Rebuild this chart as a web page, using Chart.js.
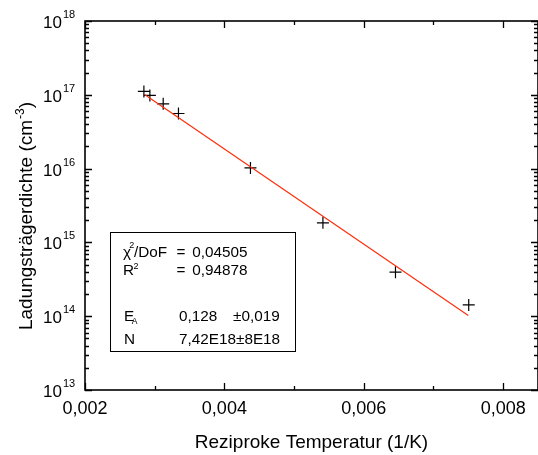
<!DOCTYPE html>
<html>
<head>
<meta charset="utf-8">
<script src="https://cdn.jsdelivr.net/npm/chart.js@4/dist/chart.umd.min.js"></script>
<style>
html,body{margin:0;padding:0;background:#fff;}
canvas{display:block;}
</style>
</head>
<body>
<canvas id="c" width="538" height="455"></canvas>
<script>
// Data
const xValues = [0.002845, 0.002931, 0.003122, 0.003341, 0.004374, 0.005414, 0.006455, 0.007506];
const yValues = [1.11e17, 0.98e17, 7.55e16, 5.58e16, 1.02e16, 1.84e15, 3.95e14, 1.42e14];
const fitX = [0.00286, 0.0075];
const fitY = [1.0e17, 1.02e14];
const xTickValues = [0.002, 0.004, 0.006, 0.008];
const xTickLabels = ['0,002', '0,004', '0,006', '0,008'];
const xMinorValues = [0.003, 0.005, 0.007];
const yExponents = [13, 14, 15, 16, 17, 18];
const xTitle = 'Reziproke Temperatur (1/K)';
const yTitleMain = 'Ladungsträgerdichte (cm';
const yTitleSup = '-3';
const yTitleEnd = ')';
const FONT = '"Liberation Sans", Arial, sans-serif';

const framePlugin = {
  id: 'frame',
  afterDraw(chart) {
    const ctx = chart.ctx;
    const xs = chart.scales.x, ys = chart.scales.y;
    const a = chart.chartArea;
    ctx.save();
    ctx.strokeStyle = '#000';
    ctx.fillStyle = '#000';
    // frame
    ctx.lineWidth = 1.6;
    ctx.strokeRect(a.left, a.top, a.right - a.left, a.bottom - a.top);
    ctx.lineWidth = 1.3;
    // x ticks
    const tickX = (v, len) => {
      const px = Math.round(xs.getPixelForValue(v)) + 0.5;
      ctx.beginPath();
      ctx.moveTo(px, a.bottom); ctx.lineTo(px, a.bottom - len);
      ctx.moveTo(px, a.top); ctx.lineTo(px, a.top + len);
      ctx.stroke();
    };
    xTickValues.forEach(v => tickX(v, 7));
    xMinorValues.forEach(v => tickX(v, 4));
    // y ticks (log)
    const tickY = (v, len) => {
      const py = Math.round(ys.getPixelForValue(v)) + 0.5;
      ctx.beginPath();
      ctx.moveTo(a.left, py); ctx.lineTo(a.left + len, py);
      ctx.moveTo(a.right, py); ctx.lineTo(a.right - len, py);
      ctx.stroke();
    };
    yExponents.forEach((e, i) => {
      tickY(Math.pow(10, e), 7);
      if (i < yExponents.length - 1) {
        for (let m = 2; m <= 9; m++) tickY(m * Math.pow(10, e), 4);
      }
    });
    // x tick labels
    ctx.font = '18px ' + FONT;
    ctx.textAlign = 'center';
    ctx.textBaseline = 'alphabetic';
    xTickValues.forEach((v, i) => {
      ctx.fillText(xTickLabels[i], xs.getPixelForValue(v), 414);
    });
    // y tick labels 10^n
    yExponents.forEach(e => {
      const py = ys.getPixelForValue(Math.pow(10, e));
      ctx.font = '17px ' + FONT;
      ctx.textAlign = 'right';
      ctx.textBaseline = 'alphabetic';
      ctx.fillText('10', 62, py + 7);
      ctx.font = '11px ' + FONT;
      ctx.textAlign = 'left';
      ctx.fillText(String(e), 63, py - 3);
    });
    // x title
    ctx.font = '19px ' + FONT;
    ctx.textAlign = 'center';
    ctx.fillText(xTitle, (a.left + a.right) / 2, 448);
    // y title (rotated)
    ctx.save();
    ctx.translate(32, (a.top + a.bottom) / 2 + 11);
    ctx.rotate(-Math.PI / 2);
    ctx.font = '19px ' + FONT;
    const w1 = ctx.measureText(yTitleMain).width;
    ctx.font = '12px ' + FONT;
    const w2 = ctx.measureText(yTitleSup).width;
    ctx.font = '19px ' + FONT;
    const w3 = ctx.measureText(yTitleEnd).width;
    let x0 = -(w1 + w2 + w3) / 2;
    ctx.textAlign = 'left';
    ctx.fillText(yTitleMain, x0, 0);
    ctx.font = '12px ' + FONT;
    ctx.fillText(yTitleSup, x0 + w1 + 1, -8);
    ctx.font = '19px ' + FONT;
    ctx.fillText(yTitleEnd, x0 + w1 + w2 + 1, 0);
    ctx.restore();
    // stats box
    ctx.lineWidth = 1;
    ctx.strokeRect(110.5, 232.5, 185, 119);
    ctx.textAlign = 'left';
    const BF = '15.3px ' + FONT;
    const SF = '9px ' + FONT;
    ctx.font = BF;
    const tx = 123;
    // line 1
    ctx.fillText('\u03C7', tx, 256.5);
    ctx.font = SF;
    ctx.fillText('2', 129.3, 247.5);
    ctx.font = BF;
    ctx.fillText('/DoF', 134, 256.5);
    ctx.fillText('=', 176.5, 256.5);
    ctx.fillText('0,04505', 192.3, 256.5);
    // line 2
    ctx.fillText('R', tx, 274.5);
    ctx.font = SF;
    ctx.fillText('2', 133.5, 268.5);
    ctx.font = BF;
    ctx.fillText('=', 176.5, 274.5);
    ctx.fillText('0,94878', 192.3, 274.5);
    // line 3
    ctx.fillText('E', tx + 1, 320.7);
    ctx.font = '8.5px ' + FONT;
    ctx.fillText('A', 131.7, 324);
    ctx.font = BF;
    ctx.fillText('0,128', 179, 320.7);
    ctx.fillText('\u00B10,019', 233, 320.7);
    // line 4
    ctx.fillText('N', tx + 1, 344.4);
    ctx.fillText('7,42E18\u00B18E18', 179, 344.4);
    ctx.restore();
  }
};

new Chart(document.getElementById('c'), {
  type: 'scatter',
  data: {
    datasets: [
      {
        label: 'fit',
        type: 'line',
        data: fitX.map((x, i) => ({x: x, y: fitY[i]})),
        borderColor: 'rgb(255,45,10)',
        borderWidth: 1.2,
        pointRadius: 0,
        fill: false,
        tension: 0
      },
      {
        label: 'data',
        data: xValues.map((x, i) => ({x: x, y: yValues[i]})),
        pointStyle: 'cross',
        pointRadius: 6,
        borderColor: '#000',
        pointBorderColor: '#000',
        pointBorderWidth: 1.2,
        backgroundColor: '#000'
      }
    ]
  },
  options: {
    responsive: false,
    animation: false,
    devicePixelRatio: 1,
    layout: { autoPadding: false, padding: { left: 85, top: 21, right: 0, bottom: 65 } },
    plugins: { legend: { display: false }, tooltip: { enabled: false } },
    scales: {
      x: { type: 'linear', min: 0.002, max: 0.0085, display: false },
      y: { type: 'logarithmic', min: 1e13, max: 1e18, display: false }
    }
  },
  plugins: [framePlugin]
});
</script>
</body>
</html>
